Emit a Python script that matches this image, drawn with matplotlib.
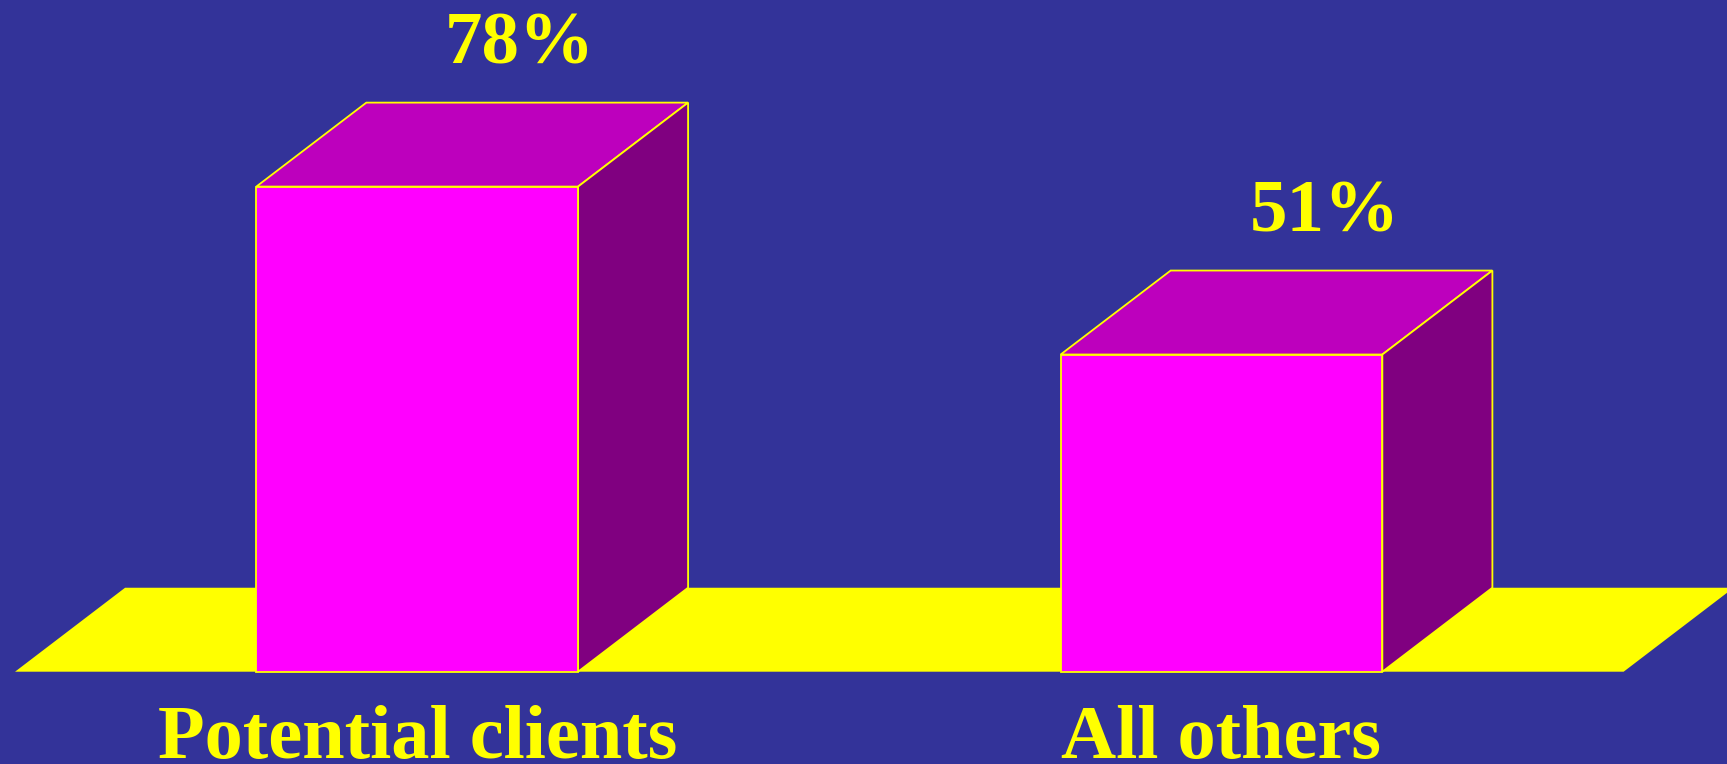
import matplotlib
matplotlib.use("Agg")
import matplotlib.pyplot as plt
from matplotlib.patches import Polygon

# data
categories = ["Potential clients", "All others"]
values = [78, 51]
value_labels = ["78%", "51%"]

# colours
C_BG = "#333399"
C_FRONT = "#FF00FF"
C_TOP = "#BD00BD"
C_SIDE = "#800080"
C_FLOOR = "#FFFF00"
C_TEXT = "#FFFF00"

BAR_W = 0.40
DEPTH_X = 0.1368   # oblique depth, in category units
DEPTH_Y = 13.5     # oblique depth, in percent units

fig = plt.figure(figsize=(17.27, 7.64), dpi=100)
fig.patch.set_facecolor(C_BG)
ax = fig.add_axes([0, 0, 1, 1])
ax.set_facecolor(C_BG)
ax.set_xlim(-0.5187, 1.6285)
ax.set_ylim(-14.84, 108.0)
ax.axis("off")

xs = list(range(len(categories)))

# floor slab
x0, x1 = -0.5, len(categories) - 0.5
ax.add_patch(Polygon([(x0, 0), (x1, 0), (x1 + DEPTH_X, DEPTH_Y),
                      (x0 + DEPTH_X, DEPTH_Y)],
                     closed=True, facecolor=C_FLOOR, edgecolor="none", zorder=1))

# front faces
ax.bar(xs, values, width=BAR_W, color=C_FRONT, edgecolor=C_FLOOR,
       linewidth=1.3, zorder=3)

for x, v in zip(xs, values):
    l, r = x - BAR_W / 2, x + BAR_W / 2
    # top face
    ax.add_patch(Polygon([(l, v), (r, v), (r + DEPTH_X, v + DEPTH_Y),
                          (l + DEPTH_X, v + DEPTH_Y)],
                         closed=True, facecolor=C_TOP, edgecolor=C_FLOOR,
                         linewidth=1.3, zorder=2))
    # side face
    ax.add_patch(Polygon([(r, 0), (r + DEPTH_X, DEPTH_Y),
                          (r + DEPTH_X, v + DEPTH_Y), (r, v)],
                         closed=True, facecolor=C_SIDE, edgecolor=C_FLOOR,
                         linewidth=1.3, zorder=2))

# value labels
for x, v, lbl in zip(xs, values, value_labels):
    ax.text(x + 0.128, v + 19.8, lbl, ha="center", va="baseline",
            fontsize=54, fontweight="bold", family="Liberation Serif",
            color=C_TEXT, zorder=5)

# category labels
for x, cat in zip(xs, categories):
    ax.text(x, -13.9, cat, ha="center", va="baseline",
            fontsize=55, fontweight="bold", family="Liberation Serif",
            color=C_TEXT, zorder=5)

fig.savefig("out.png", dpi=100, facecolor=fig.get_facecolor())
plt.close(fig)
